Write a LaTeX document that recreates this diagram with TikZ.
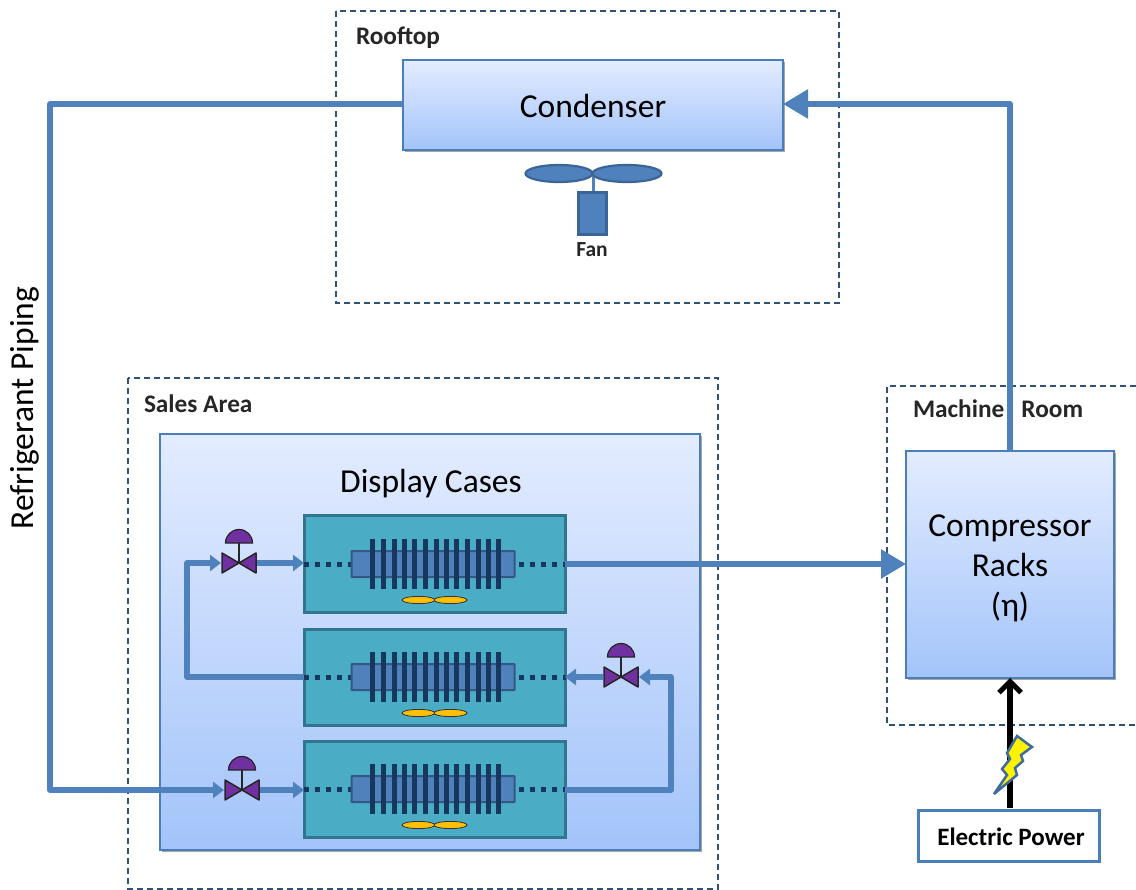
\documentclass[tikz,border=0pt]{standalone}
\usepackage{fontspec}
\setmainfont{Carlito}
\usetikzlibrary{arrows.meta,shadows,calc}
\definecolor{pipe}{HTML}{4F81BD}
\definecolor{edgeblue}{HTML}{4A7EBB}
\definecolor{dashc}{HTML}{2F5276}
\definecolor{finc}{HTML}{17375E}
\definecolor{casefill}{HTML}{4BACC6}
\definecolor{caseedge}{HTML}{31758F}
\definecolor{gradtop}{HTML}{E3ECFF}
\definecolor{gradbot}{HTML}{A3C4FA}
\definecolor{valvec}{HTML}{7030A0}
\definecolor{fanc}{HTML}{FFC000}
\tikzset{
  x=1pt,y=-1pt,
  every node/.style={inner sep=0pt,outer sep=0pt},
  gradbox/.style={draw=edgeblue,line width=1.5pt,top color=gradtop,bottom color=gradbot,
    drop shadow={shadow xshift=1.5pt,shadow yshift=-2pt,opacity=.35,fill=black}},
  casebox/.style={draw=caseedge,line width=3pt,fill=casefill,minimum width=261pt,minimum height=96pt},
  zone/.style={draw=dashc,line width=1.1pt,dash pattern=on 6pt off 4pt},
  pipeline/.style={draw=pipe,line width=5.5pt,line join=round},
  smallhead/.style={-{Triangle[length=11pt,width=16pt]}},
  bighead/.style={-{Triangle[length=25pt,width=28pt]}},
  valvenode/.style={minimum width=36pt,minimum height=20pt},
  zonelabel/.style={font=\fontsize{25.3}{28}\selectfont\bfseries,text=black!85,anchor=west},
  bigtext/.style={font=\fontsize{33.5}{36}\selectfont,text=black,align=center},
  casecore/.pic={
    \draw[finc,line width=5pt,dash pattern=on 5pt off 6pt] (-131,0) -- (-84,0);
    \draw[finc,line width=5pt,dash pattern=on 5pt off 6pt] (84,0) -- (131,0);
    \fill[pipe,draw=edgeblue!70!black,line width=2pt,rounded corners=.5pt] (-83,-13) rectangle (80,13);
    \foreach \fx in {-62,-51,-40,-30,-20,-9,2,12,22,33,44,54,64}
      \draw[finc,line width=4.5pt] (\fx,-25) -- (\fx,25);
    \draw[black!80,fill=fanc,line width=.8pt] (-16,36) ellipse (16.5 and 3.6);
    \draw[black!80,fill=fanc,line width=.8pt] (16,36) ellipse (16.5 and 3.6);
  },
  valvepic/.pic={
    \draw[black!85,line width=1.5pt] (0,0) -- (0,-20);
    \draw[black!85,fill=valvec,line width=1.5pt,line join=round] (-17,-10) -- (0,0) -- (-17,10) -- cycle;
    \draw[black!85,fill=valvec,line width=1.5pt,line join=round] (17,-10) -- (0,0) -- (17,10) -- cycle;
    \draw[black!85,fill=valvec,line width=1.2pt] (-13.5,-20) arc[start angle=180,end angle=360,radius=13.5] -- cycle;
  },
}
\begin{document}
\begin{tikzpicture}
\useasboundingbox (0,0) rectangle (1136,890);
% zones
\draw[zone] (336,11) rectangle (839,303);
\draw[zone] (128,378) rectangle (718,889);
\draw[zone] (1136,386) -- (887,386) -- (887,725) -- (1136,725);
\node[zonelabel] (roof) at (356,38) {Rooftop};
\node[zonelabel] (sales) at (144,404) {Sales Area};
\node[zonelabel] (mach) at (913,409) {Machine\ \ \ Room};
% main boxes
\node[gradbox,minimum width=380pt,minimum height=90pt] (cond) at (593,105) {};
\node[font=\fontsize{33.5}{36}\selectfont] (condt) at (593,106) {Condenser};
\node[gradbox,minimum width=540pt,minimum height=416pt] (disp) at (430,642) {};
\node[bigtext] (dispt) at (431,484) {Display Cases};
\node[gradbox,minimum width=208pt,minimum height=227pt] (comp) at (1010,564.5) {};
\node[bigtext,text width=200pt] (compt) at (1010,568) {Compressor\\[4pt]Racks\\[4pt](η)};
\node[draw=edgeblue,line width=3pt,fill=white,minimum width=181pt,minimum height=51pt] (elec) at (1009,836) {};
\node[font=\fontsize{25}{28}\selectfont\bfseries] (elect) at (1011,837) {Electric Power};
% cases
\node[casebox] (c1) at (434.5,564) {};
\node[casebox] (c2) at (434.5,677) {};
\node[casebox] (c3) at (434.5,789) {};
\pic at (c1) {casecore};
\pic at (c2) {casecore};
\pic at (c3) {casecore};
% valves
\node[valvenode] (v1) at (239,563) {};
\node[valvenode] (v2) at (621,677) {};
\node[valvenode] (v3) at (242,790) {};
\pic at (v1) {valvepic};
\pic at (v2) {valvepic};
\pic at (v3) {valvepic};
% fan
\draw[pipe,line width=3pt] (593,173) -- (593,192);
\node[draw=edgeblue!80!black,line width=2.2pt,fill=pipe,minimum width=28pt,minimum height=42pt] (fanbody) at (592.5,213.5) {};
\draw[edgeblue!80!black,fill=pipe,line width=2.2pt] (559,173.5) ellipse (33.5 and 8.5);
\draw[edgeblue!80!black,fill=pipe,line width=2.2pt] (627,173.5) ellipse (34.5 and 8.5);
\node[font=\fontsize{21.5}{24}\selectfont\bfseries,text=black!85] (fant) at (592,250) {Fan};
% pipes
\draw[pipeline,smallhead] (cond.west |- 0,104) -- (50,104) -- (50,790) -- (v3.west);
\draw[pipeline,smallhead] (v3.east) -- (c3.west |- v3);
\draw[pipeline,smallhead] (c3.east |- 0,790) -- (671,790) -- (671,677) -- (v2.east);
\draw[pipeline,smallhead] (v2.west) -- (c2.east);
\draw[pipeline,smallhead] (c2.west) -- (187,677) -- (187,563) -- (v1.west);
\draw[pipeline,smallhead] (v1.east) -- (c1.west |- v1);
\draw[pipeline,bighead] (c1.east) -- (comp.west |- c1);
\draw[pipeline,bighead] (comp.north) -- (1010,104) -- (cond.east |- 0,104);
\draw[black,line width=5.5pt,-{Straight Barb[length=11pt,width=22pt,line width=5pt]}] (1010,808) -- (comp.south -| 1010,0);
% lightning
\draw[edgeblue!85!black,line width=2.5pt,fill=yellow,line join=miter,miter limit=3]
 (994,794) -- (1007,775) -- (1002,769) -- (1010,759) -- (1007,753) -- (1017,736)
 -- (1032,747) -- (1021,755) -- (1023,761) -- (1015,768) -- (1017,775) -- cycle;
% side label
\node[rotate=90,font=\fontsize{33.5}{36}\selectfont,text=black] (rp) at (25,408) {Refrigerant Piping};
\end{tikzpicture}
\end{document}
